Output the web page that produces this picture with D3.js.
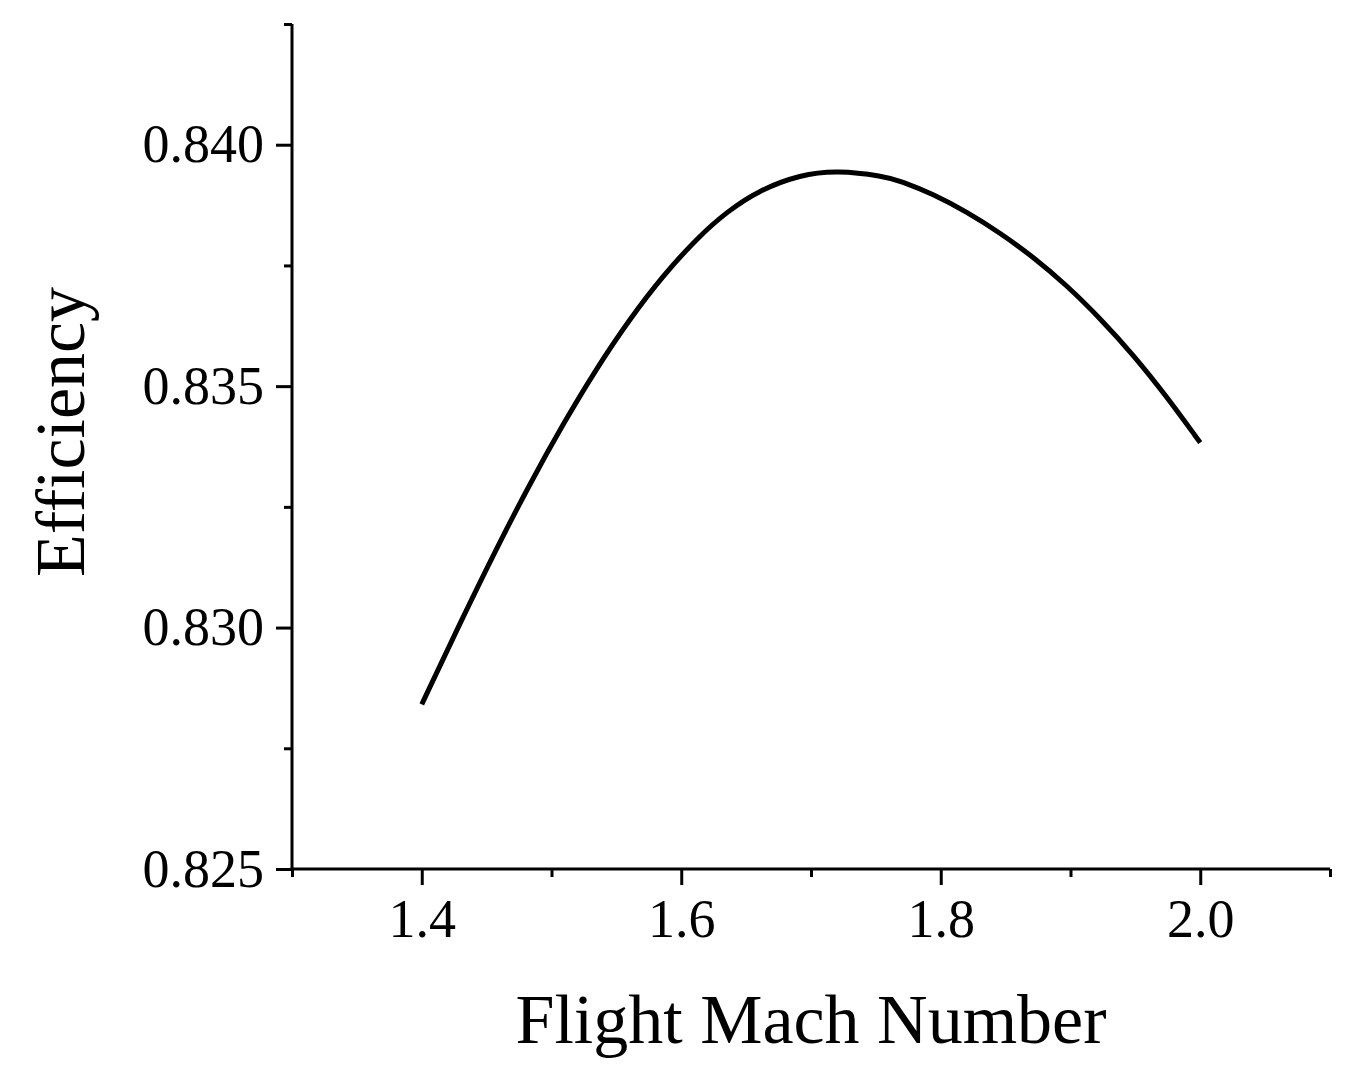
<!DOCTYPE html>
<html>
<head>
<meta charset="utf-8">
<script src="https://cdn.jsdelivr.net/npm/d3@7/dist/d3.min.js"></script>
<style>
  body { margin: 0; background: #fff; }
  svg text { font-family: 'Liberation Serif', 'Times New Roman', serif; fill: #000; }
</style>
</head>
<body>
<svg id="chart" width="1353" height="1074"></svg>
<script>
// values
const machNumbers = [1.400, 1.430, 1.458, 1.483, 1.509, 1.535, 1.560, 1.586, 1.612, 1.635, 1.660, 1.692, 1.720,
  1.756, 1.769, 1.794, 1.820, 1.846, 1.871, 1.897, 1.923, 1.949, 1.974, 2.000];
const efficiency = [0.82841, 0.83012, 0.83166, 0.83296, 0.83422, 0.83538, 0.83638, 0.83729, 0.83806, 0.83861, 0.83906, 0.83938, 0.83947,
  0.83935, 0.83925, 0.83898, 0.83861, 0.83817, 0.83768, 0.83709, 0.83640, 0.83563, 0.83479, 0.83383];

const xMajorTicks = [1.4, 1.6, 1.8, 2.0];
const xMinorTicks = [1.3, 1.5, 1.7, 1.9, 2.1];
const yMajorTicks = [0.825, 0.830, 0.835, 0.840];
const yMinorTicks = [0.8275, 0.8325, 0.8375, 0.8425];

const xTitle = 'Flight Mach Number';
const yTitle = 'Efficiency';

const svg = d3.select('#chart');
const margin = { top: 24, right: 23, bottom: 205, left: 292 };
const width = +svg.attr('width') - margin.left - margin.right;
const height = +svg.attr('height') - margin.top - margin.bottom;

const g = svg.append('g').attr('transform', `translate(${margin.left},${margin.top})`);

const x = d3.scaleLinear().domain([1.3, 2.1]).range([0, width]);
const y = d3.scaleLinear().domain([0.825, 0.8425]).range([height, 0]);

const styleAxis = (sel) => {
  sel.select('.domain').attr('stroke', '#000').attr('stroke-width', 3);
  sel.selectAll('.tick line').attr('stroke', '#000').attr('stroke-width', 3);
  sel.selectAll('.tick text').style('font-size', '54px');
};

// x axis: minor then major
g.append('g')
  .attr('transform', `translate(0,${height})`)
  .call(d3.axisBottom(x).tickValues(xMinorTicks).tickSize(8).tickFormat(''))
  .call(styleAxis)
  .call(a => a.select('.domain').attr('d', `M${x(1.3) - 1.5},0H${x(2.1)}`));

g.append('g')
  .attr('transform', `translate(0,${height})`)
  .call(d3.axisBottom(x).tickValues(xMajorTicks).tickSize(16).tickPadding(14).tickFormat(d3.format('.1f')))
  .call(styleAxis)
  .call(a => a.select('.domain').remove());

// y axis
g.append('g')
  .call(d3.axisLeft(y).tickValues(yMinorTicks).tickSize(8).tickFormat(''))
  .call(styleAxis)
  .call(a => a.select('.domain').attr('d', `M0,${y(0.8425)}V${y(0.825)}`));

g.append('g')
  .call(d3.axisLeft(y).tickValues(yMajorTicks).tickSize(16).tickPadding(12).tickFormat(d3.format('.3f')))
  .call(styleAxis)
  .call(a => a.select('.domain').remove());

// curve
const points = machNumbers.map((m, i) => ({ m, e: efficiency[i] }));
const line = d3.line()
  .x(d => x(d.m))
  .y(d => y(d.e))
  .curve(d3.curveBasis);

g.append('path')
  .datum(points)
  .attr('fill', 'none')
  .attr('stroke', '#000')
  .attr('stroke-width', 5)
  .attr('d', line);

// axis titles
svg.append('text')
  .attr('x', margin.left + x(1.7))
  .attr('y', 1043)
  .attr('text-anchor', 'middle')
  .style('font-size', '70px')
  .text(xTitle);

svg.append('text')
  .attr('transform', 'translate(84,432) rotate(-90)')
  .attr('text-anchor', 'middle')
  .style('font-size', '70px')
  .text(yTitle);
</script>
</body>
</html>
